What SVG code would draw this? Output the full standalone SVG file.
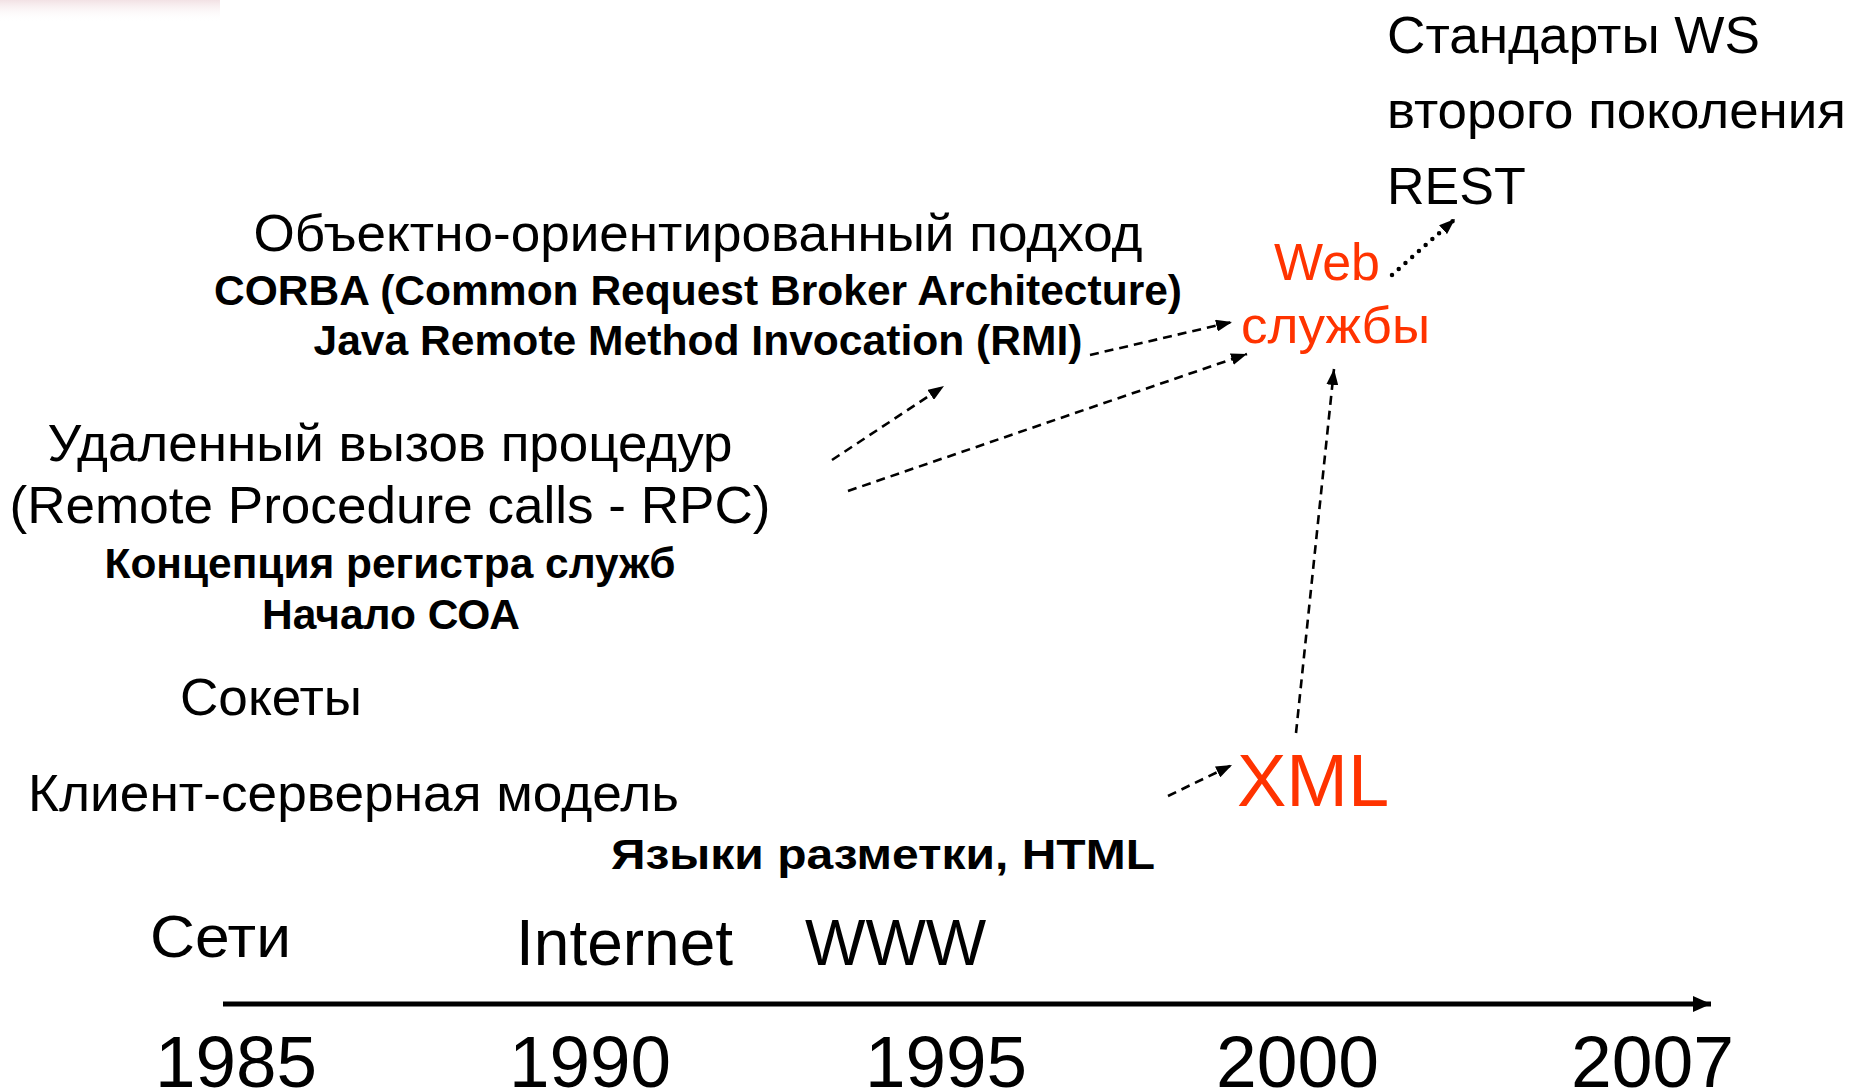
<svg xmlns="http://www.w3.org/2000/svg" width="1853" height="1092" viewBox="0 0 1853 1092">
<style>
text{font-family:"Liberation Sans",Arial,sans-serif;fill:#000}
.n{font-size:52px}
.b{font-size:42px;font-weight:bold}
.r{fill:#FF3300}
.c{text-anchor:middle}
.dash{stroke:#000;stroke-width:2.6;fill:none;stroke-dasharray:9 6;marker-end:url(#ah)}
.dot{stroke:#000;stroke-width:4.5;fill:none;stroke-dasharray:0 9;stroke-linecap:round;marker-end:url(#ah)}
</style>
<defs>
<linearGradient id="pg" x1="0" y1="0" x2="0" y2="1">
<stop offset="0" stop-color="#f2e1e4"/>
<stop offset="1" stop-color="#ffffff" stop-opacity="0"/>
</linearGradient>
<marker id="ah" viewBox="0 0 16 12" refX="16" refY="6" markerWidth="16" markerHeight="12" markerUnits="userSpaceOnUse" orient="auto">
<path d="M0,0 L16,6 L0,12 z" fill="#000"/>
</marker>
<marker id="ta" viewBox="0 0 18 16" refX="18" refY="8" markerWidth="18" markerHeight="16" markerUnits="userSpaceOnUse" orient="auto">
<path d="M0,0 L18,8 L0,16 z" fill="#000"/>
</marker>
</defs>
<rect width="1853" height="1092" fill="#fff"/>
<rect x="0" y="0" width="220" height="22" fill="url(#pg)"/>

<g id="ws2">
<text class="n" x="1387" y="53" textLength="373" lengthAdjust="spacingAndGlyphs">Стандарты WS</text>
<text class="n" x="1387" y="128" textLength="459" lengthAdjust="spacingAndGlyphs">второго поколения</text>
<text class="n" x="1387" y="204">REST</text>
</g>
<g id="webservices">
<text class="n r" x="1274" y="280">Web</text>
<text class="n r" x="1241" y="343" textLength="189" lengthAdjust="spacingAndGlyphs">службы</text>
</g>
<g id="oop">
<text class="n c" x="698" y="251" textLength="889" lengthAdjust="spacingAndGlyphs">Объектно-ориентированный подход</text>
<text class="b c" x="698" y="305" textLength="968" lengthAdjust="spacingAndGlyphs">CORBA (Common Request Broker Architecture)</text>
<text class="b c" x="698" y="355" textLength="769" lengthAdjust="spacingAndGlyphs">Java Remote Method Invocation (RMI)</text>
</g>
<g id="rpc">
<text class="n c" x="390" y="461" textLength="685" lengthAdjust="spacingAndGlyphs">Удаленный вызов процедур</text>
<text class="n c" x="390" y="523" textLength="761" lengthAdjust="spacingAndGlyphs">(Remote Procedure calls - RPC)</text>
<text class="b c" x="390" y="578" textLength="571" lengthAdjust="spacingAndGlyphs">Концепция регистра служб</text>
<text class="b c" x="391" y="629" textLength="258" lengthAdjust="spacingAndGlyphs">Начало СОА</text>
</g>
<g id="sockets"><text class="n" x="180" y="715" textLength="182" lengthAdjust="spacingAndGlyphs">Сокеты</text></g>
<g id="clientserver"><text class="n" x="28" y="811" textLength="651" lengthAdjust="spacingAndGlyphs">Клиент-серверная модель</text></g>
<g id="markup"><text class="b c" x="883" y="869" textLength="544" lengthAdjust="spacingAndGlyphs">Языки разметки, HTML</text></g>
<g id="xml"><text class="r" x="1237" y="806" style="font-size:74px">XML</text></g>
<g id="nets"><text x="150" y="957" style="font-size:60px" textLength="141" lengthAdjust="spacingAndGlyphs">Сети</text></g>
<g id="internet"><text x="516" y="965" style="font-size:64px">Internet</text></g>
<g id="www"><text x="805" y="965" style="font-size:64px">WWW</text></g>
<g id="timeline">
<line x1="223" y1="1004" x2="1711" y2="1004" stroke="#000" stroke-width="5" marker-end="url(#ta)"/>
<g style="font-size:72px">
<text x="155" y="1087" textLength="162" lengthAdjust="spacingAndGlyphs">1985</text>
<text x="509" y="1087" textLength="162" lengthAdjust="spacingAndGlyphs">1990</text>
<text x="865" y="1087" textLength="162" lengthAdjust="spacingAndGlyphs">1995</text>
<text x="1216" y="1087" textLength="163" lengthAdjust="spacingAndGlyphs">2000</text>
<text x="1571" y="1087" textLength="163" lengthAdjust="spacingAndGlyphs">2007</text>
</g>
</g>
<g id="connectors">
<line class="dash" x1="1090" y1="355" x2="1232" y2="322"/>
<line class="dash" x1="848" y1="491" x2="1247" y2="354"/>
<line class="dash" x1="832" y1="460" x2="944" y2="386"/>
<line class="dash" x1="1296" y1="733" x2="1334" y2="369"/>
<line class="dash" x1="1168" y1="796" x2="1232" y2="765"/>
<line class="dot" x1="1392" y1="275" x2="1455" y2="219"/>
</g>
</svg>
